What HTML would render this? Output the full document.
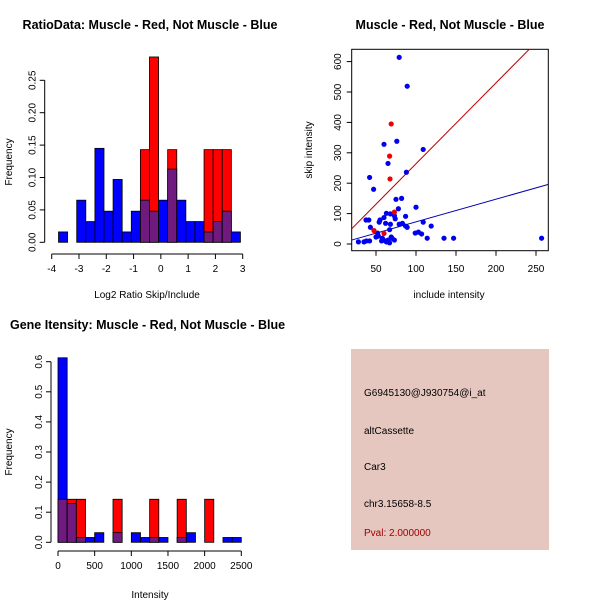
<!DOCTYPE html>
<html><head><meta charset="utf-8"><style>
body{margin:0;background:#fff;width:600px;height:600px;overflow:hidden}
svg{font-family:"Liberation Sans",sans-serif}
</style></head><body>
<svg id="s" width="600" height="600">
<text x="150" y="29" text-anchor="middle" font-weight="bold" font-size="12.5">RatioData: Muscle - Red, Not Muscle - Blue</text>
<text x="450" y="29" text-anchor="middle" font-weight="bold" font-size="12.5">Muscle - Red, Not Muscle - Blue</text>
<text x="10" y="329" font-weight="bold" font-size="12.5">Gene Itensity: Muscle - Red, Not Muscle - Blue</text>
<text x="147" y="298" text-anchor="middle" font-size="10">Log2 Ratio Skip/Include</text>
<text x="12" y="162" text-anchor="middle" font-size="10" transform="rotate(-90 12 162)">Frequency</text>
<text x="449" y="298" text-anchor="middle" font-size="10">include intensity</text>
<text x="312" y="150" text-anchor="middle" font-size="10" transform="rotate(-90 312 150)">skip intensity</text>
<text x="150" y="598" text-anchor="middle" font-size="10">Intensity</text>
<text x="12" y="452" text-anchor="middle" font-size="10" transform="rotate(-90 12 452)">Frequency</text>
<g>
<rect x="351" y="349" width="198" height="201" fill="#e5c7c0"/>
<text x="364" y="396" font-size="10">G6945130@J930754@i_at</text>
<text x="364" y="434" font-size="10">altCassette</text>
<text x="364" y="470" font-size="10">Car3</text>
<text x="364" y="507" font-size="10">chr3.15658-8.5</text>
<text x="364" y="536" font-size="10" fill="#a00000">Pval: 2.000000</text>
</g>
</svg>
<script>
const ratioBlue=[0.016,0,0.065,0.032,0.145,0.048,0.097,0.016,0.048,0.065,0.048,0.065,0.113,0.065,0.032,0.032,0.016,0.032,0.048,0.016];
const ratioRed=[0,0,0,0,0,0,0,0,0,0.143,0.286,0,0.143,0,0,0,0.143,0.143,0.143,0];
const ratioStart=-3.75, ratioWidth=1/3;
const ratioXTicks=[-4,-3,-2,-1,0,1,2,3];
const ratioYTicks=["0.00","0.05","0.10","0.15","0.20","0.25"];
const intBlue=[0.613,0.129,0.016,0.016,0.032,0,0.032,0,0.032,0.016,0.016,0.016,0,0.016,0.032,0,0,0,0.016,0.016];
const intRed=[0.143,0.143,0.143,0,0,0,0.143,0,0,0,0.143,0,0,0.143,0,0,0.143,0,0,0];
const intStart=0, intWidth=125;
const intXTicks=[0,500,1000,1500,2000,2500];
const intYTicks=["0.0","0.1","0.2","0.3","0.4","0.5","0.6"];
const blueX=[79,89,76,60,109,65,88,42,47,75,82,78,100,63,68,87,73,74,60,55,54,37.5,41,62,68,79,83,87,89,109,119,43,52,67,53,50,58,57,63,65,70,73,69,99,103,107,114,135,147,28,35,38,42,257,67,62];
const blueY=[614,519,338,328,311,265,236,219,180,147,150,116,121,101,99,91,93,83,87,79,72,79,79,68,65,65,68,59,55,72,59,55,36,47,26,23,19,10,7,13,19,13,23,36,39,33,19,19,19,7,7,10,10,19,4,10];
const redX=[69,67,67.5,73,47.5,60];
const redY=[395,289,214,105,44,35];
const redFit=[-2,2.66], blueFit=[-1.6,0.745];
const sXTicks=[50,100,150,200,250], sYTicks=[0,100,200,300,400,500,600];

const S=document.getElementById('s'),NS='http://www.w3.org/2000/svg';
function mk(t,a){const e=document.createElementNS(NS,t);for(const k in a)e.setAttribute(k,a[k]);S.appendChild(e);return e;}

function hist(blue,red,start,w,xs,ys,ytv,x0,x1px,xv0,xv1,y0px,yscale,axY,pre,xlab){
  const X=v=>x0+(v-xv0)/(xv1-xv0)*(x1px-x0), Y=v=>y0px-v*yscale;
  blue.forEach((b,i)=>{
    const r=red[i],l=X(start+i*w),rr=X(start+(i+1)*w);
    const hi=Math.max(b,r),lo=Math.min(b,r);
    if(hi>0){const e=mk('rect',{x:l,y:Y(hi),width:rr-l,height:Y(0)-Y(hi),fill:b>=r?'#0000ff':'#ff0000',stroke:'#000','stroke-width':0.8});
      
      }
    if(lo>0&&r>0&&b>0){const e=mk('rect',{x:l,y:Y(lo),width:rr-l,height:Y(0)-Y(lo),fill:'#701a80',stroke:'#000','stroke-width':0.8});
      
      }
  });
  const xa=mk('line',{x1:X(xs[0]),x2:X(xs[xs.length-1]),y1:axY,y2:axY,stroke:'#000'});
  
  
  xs.forEach(v=>{mk('line',{x1:X(v),x2:X(v),y1:axY,y2:axY+5,stroke:'#000'});
    const t=mk('text',{x:X(v),y:axY+18,'text-anchor':'middle','font-size':10});t.textContent=v;
    
    });
  const ax=x0-7;
  const ya=mk('line',{x1:ax,x2:ax,y1:Y(ytv[0]),y2:Y(ytv[ytv.length-1]),stroke:'#000'});
  
  
  ys.forEach((s,i)=>{const y=Y(ytv[i]);mk('line',{x1:ax-5,x2:ax,y1:y,y2:y,stroke:'#000'});
    const t=mk('text',{x:ax-9,y:y,'text-anchor':'middle','font-size':10,transform:`rotate(-90 ${ax-9} ${y})`});t.textContent=s;
    
    });
}
hist(ratioBlue,ratioRed,ratioStart,ratioWidth,ratioXTicks,ratioYTicks,ratioYTicks.map(Number),51.7,242.7,-4,3,242.3,648,254,'ratio');
hist(intBlue,intRed,intStart,intWidth,intXTicks,intYTicks,intYTicks.map(Number),58,241.3,0,2500,542.3,301,551,'intensity');

// scatter
const SX=v=>336+v*0.8, SY=v=>244-v*0.304;
const box=mk('rect',{x:351.7,y:49.3,width:196.6,height:201.4,fill:'none',stroke:'#000'});


const cp=mk('clipPath',{id:'cp'});const cr=document.createElementNS(NS,'rect');
cr.setAttribute('x',351.7);cr.setAttribute('y',49.3);cr.setAttribute('width',196.6);cr.setAttribute('height',201.4);cp.appendChild(cr);
[[redFit,'#c00000','red-fit-line'],[blueFit,'#0000b0','blue-fit-line']].forEach(([f,c,n])=>{
  const xa=19.6,xb=265.5;const l=mk('line',{x1:SX(xa),y1:SY(f[0]+f[1]*xa),x2:SX(xb),y2:SY(f[0]+f[1]*xb),stroke:c,'clip-path':'url(#cp)'});
  
  });
blueX.forEach((x,i)=>{const c=mk('circle',{cx:SX(x),cy:SY(blueY[i]),r:2.6,fill:'#0000ee'});
  
  });
redX.forEach((x,i)=>{const c=mk('circle',{cx:SX(x),cy:SY(redY[i]),r:2.6,fill:'#ee0000'});
  
  });
sXTicks.forEach(v=>{mk('line',{x1:SX(v),x2:SX(v),y1:250.7,y2:255.7,stroke:'#000'});
  const t=mk('text',{x:SX(v),y:272,'text-anchor':'middle','font-size':10});t.textContent=v;
  
  });
sYTicks.forEach(v=>{const y=SY(v);mk('line',{x1:346.7,x2:351.7,y1:y,y2:y,stroke:'#000'});
  const t=mk('text',{x:341,y:y,'text-anchor':'middle','font-size':10,transform:`rotate(-90 341 ${y})`});t.textContent=v;
  
  });
</script>
</body></html>
